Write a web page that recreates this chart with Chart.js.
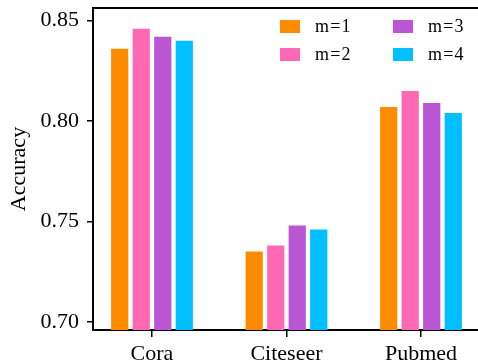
<!DOCTYPE html>
<html>
<head>
<meta charset="utf-8">
<script src="https://cdn.jsdelivr.net/npm/chart.js@4/dist/chart.umd.min.js"></script>
<style>
html,body{margin:0;padding:0;background:#fff;}
#wrap{width:478px;height:364px;}
</style>
</head>
<body>
<div id="wrap"><canvas id="c" width="478" height="364"></canvas></div>
<script>
const categories = ['Cora', 'Citeseer', 'Pubmed'];
const seriesNames = ['m=1', 'm=2', 'm=3', 'm=4'];
const m1 = [0.836, 0.735, 0.807];
const m2 = [0.846, 0.738, 0.815];
const m3 = [0.842, 0.748, 0.809];
const m4 = [0.840, 0.746, 0.804];
const yTicks = [0.70, 0.75, 0.80, 0.85];
const colors = ['#FF8C00', '#FF69B4', '#BA55D3', '#00BFFF'];

const FONT = "'Liberation Serif', 'Times New Roman', serif";
const allSeries = [m1, m2, m3, m4];

const datasets = allSeries.map((vals, i) => ({
  label: seriesNames[i],
  data: vals.map((v, j) => ({x: j + 1, y: v})),
  backgroundColor: colors[i],
  borderWidth: 0,
  categoryPercentage: 0.64,
  barPercentage: 0.8
}));

const customLegend = {
  id: 'customLegend',
  afterDraw(chart) {
    const ctx = chart.ctx;
    const ca = chart.chartArea;
    ctx.save();
    ctx.strokeStyle = '#000';
    ctx.lineWidth = 2;
    ctx.beginPath();
    ctx.moveTo(ca.left - 1, ca.top);
    ctx.lineTo(chart.width, ca.top);
    ctx.stroke();
    const colX = [280, 393];
    const rowY = [20, 48];
    ctx.font = '18px ' + FONT;
    ctx.textBaseline = 'middle';
    try { ctx.letterSpacing = '1.2px'; } catch (e) {}
    chart.data.datasets.forEach((ds, i) => {
      const col = Math.floor(i / 2), row = i % 2;
      const x = colX[col], y = rowY[row];
      ctx.fillStyle = ds.backgroundColor;
      ctx.fillRect(x, y, 20, 13);
      ctx.fillStyle = '#000';
      ctx.fillText(ds.label, x + 35, y + 7);
    });
    ctx.restore();
  }
};

new Chart(document.getElementById('c'), {
  type: 'bar',
  data: { datasets },
  plugins: [customLegend],
  options: {
    responsive: false,
    animation: false,
    devicePixelRatio: 1,
    layout: { autoPadding: false, padding: { top: 8, right: 0, left: 0, bottom: 0 } },
    plugins: { legend: { display: false }, tooltip: { enabled: false } },
    scales: {
      x: {
        type: 'linear',
        offset: false,
        min: 0.5613,
        max: 3.424,
        afterBuildTicks: (s) => { s.ticks = categories.map((c, i) => ({ value: i + 1 })); },
        afterFit: (s) => { s.height = 34; s.paddingLeft = 0; s.paddingRight = 0; },
        ticks: {
          callback: (v) => categories[Math.round(v) - 1] || '',
          color: '#000',
          font: { family: FONT, size: 22 },
          padding: 4,
          maxRotation: 0,
          autoSkip: false
        },
        grid: { offset: false, drawOnChartArea: false, tickLength: 7, color: '#000', lineWidth: 1.5 },
        border: { color: '#000', width: 2 }
      },
      y: {
        min: 0.6959,
        max: 0.8563,
        afterBuildTicks: (s) => { s.ticks = yTicks.map(v => ({ value: v })); },
        afterFit: (s) => { s.width = 93; s.paddingTop = 0; s.paddingBottom = 0; },
        ticks: {
          callback: (v) => Number(v).toFixed(2),
          color: '#000',
          font: { family: FONT, size: 22 },
          padding: 8
        },
        title: {
          display: true,
          text: 'Accuracy',
          color: '#000',
          font: { family: FONT, size: 22 },
          padding: { top: 6, bottom: 0 }
        },
        grid: { drawOnChartArea: false, tickLength: 6, color: '#000', lineWidth: 1.5 },
        border: { color: '#000', width: 2 }
      }
    }
  }
});
</script>
</body>
</html>
